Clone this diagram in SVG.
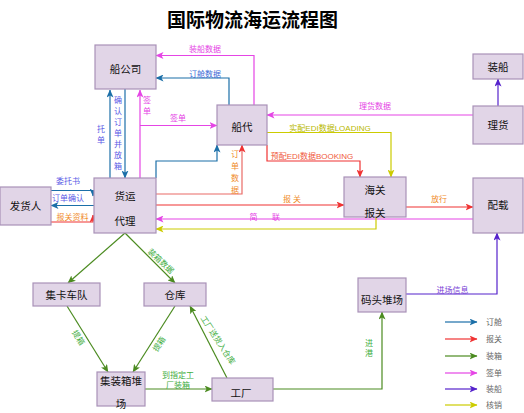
<svg xmlns="http://www.w3.org/2000/svg" width="524" height="413" viewBox="0 0 524 413">
<defs>
<style>
text{font-family:"Liberation Sans","Noto Sans CJK SC",sans-serif;}
.node rect{fill:#e1d5e7;stroke:#a992b8;stroke-width:1.2;}
.nl{font-size:10.5px;fill:#111;text-anchor:middle;}
.el{font-size:8px;text-anchor:middle;}
.c{fill:none;stroke-width:1.2;}
.blue{stroke:#1b6fa8;} .red{stroke:#f03333;} .sal{stroke:#ea6b66;} .grn{stroke:#4b8b20;}
.mag{stroke:#e545e5;} .pur{stroke:#5522cc;} .yel{stroke:#cccc00;}
.tb{fill:#3d6bd6;} .tp{fill:#5a5ae6;} .tm{fill:#e545e5;} .to{fill:#f08c2a;} .tr{fill:#f05a3c;}
.ty{fill:#b8b800;} .tg{fill:#3fae3f;} .tu{fill:#7a3fd6;} .tl{fill:#666;}
</style>
<marker id="mb" markerUnits="userSpaceOnUse" markerWidth="8" markerHeight="7" viewBox="0 0 8 7" refX="7.5" refY="3.5" orient="auto"><path d="M0,0 L8,3.5 L0,7 L2,3.5 Z" fill="#1b6fa8"/></marker>
<marker id="mr" markerUnits="userSpaceOnUse" markerWidth="8" markerHeight="7" viewBox="0 0 8 7" refX="7.5" refY="3.5" orient="auto"><path d="M0,0 L8,3.5 L0,7 L2,3.5 Z" fill="#f03333"/></marker>
<marker id="ms" markerUnits="userSpaceOnUse" markerWidth="8" markerHeight="7" viewBox="0 0 8 7" refX="7.5" refY="3.5" orient="auto"><path d="M0,0 L8,3.5 L0,7 L2,3.5 Z" fill="#f03333"/></marker>
<marker id="mg" markerUnits="userSpaceOnUse" markerWidth="8" markerHeight="7" viewBox="0 0 8 7" refX="7.5" refY="3.5" orient="auto"><path d="M0,0 L8,3.5 L0,7 L2,3.5 Z" fill="#4b8b20"/></marker>
<marker id="mm" markerUnits="userSpaceOnUse" markerWidth="8" markerHeight="7" viewBox="0 0 8 7" refX="7.5" refY="3.5" orient="auto"><path d="M0,0 L8,3.5 L0,7 L2,3.5 Z" fill="#e545e5"/></marker>
<marker id="mp" markerUnits="userSpaceOnUse" markerWidth="8" markerHeight="7" viewBox="0 0 8 7" refX="7.5" refY="3.5" orient="auto"><path d="M0,0 L8,3.5 L0,7 L2,3.5 Z" fill="#5522cc"/></marker>
<marker id="my" markerUnits="userSpaceOnUse" markerWidth="8" markerHeight="7" viewBox="0 0 8 7" refX="7.5" refY="3.5" orient="auto"><path d="M0,0 L8,3.5 L0,7 L2,3.5 Z" fill="#cccc00"/></marker>
</defs>
<rect width="524" height="413" fill="#ffffff"/>
<text x="252.5" y="27" font-size="19" font-weight="bold" text-anchor="middle" fill="#000">国际物流海运流程图</text>

<g id="connectors">
<path class="c mag" d="M254,105 V55.5 H156" marker-end="url(#mm)"/>
<path class="c blue" d="M229,105 V78 H156" marker-end="url(#mb)"/>
<path class="c mag" d="M140,178 V90" marker-end="url(#mm)"/>
<path class="c mag" d="M140,125.5 H217" marker-end="url(#mm)"/>
<path class="c blue" d="M110,178 V90" marker-end="url(#mb)"/>
<path class="c blue" d="M125,89 V178" marker-end="url(#mb)"/>
<path class="c blue" d="M156,178 V161 H217 V145" marker-end="url(#mb)"/>
<path class="c sal" d="M156,194 H242 V145" marker-end="url(#ms)"/>
<path class="c red" d="M267,145 V161 H360 V177" marker-end="url(#mr)"/>
<path class="c yel" d="M267,132.5 H391 V177" marker-end="url(#my)"/>
<path class="c mag" d="M473,115 H267" marker-end="url(#mm)"/>
<path class="c pur" d="M498,106 V79" marker-end="url(#mp)"/>
<path class="c red" d="M156,205 H344" marker-end="url(#mr)"/>
<path class="c red" d="M406,207 H473" marker-end="url(#mr)"/>
<path class="c mag" d="M473,219 H156" marker-end="url(#mm)"/>
<path class="c yel" d="M376,217 V229 H156" marker-end="url(#my)"/>
<path class="c blue" d="M51,190.5 H93 V196" marker-end="url(#mb)"/>
<path class="c blue" d="M94,205.5 H51" marker-end="url(#mb)"/>
<path class="c red" d="M51,222 H93 V215" marker-end="url(#mr)"/>
<path class="c grn" d="M125,233 L68,283" marker-end="url(#mg)"/>
<path class="c grn" d="M125,233 L175,283" marker-end="url(#mg)"/>
<path class="c grn" d="M67,306 L108,372" marker-end="url(#mg)"/>
<path class="c grn" d="M175,306 L133,372" marker-end="url(#mg)"/>
<path class="c grn" d="M145,389 H212" marker-end="url(#mg)"/>
<path class="c grn" d="M227,378 L190,306" marker-end="url(#mg)"/>
<path class="c grn" d="M273,389 H382 V312" marker-end="url(#mg)"/>
<path class="c pur" d="M406,294 H497 V233" marker-end="url(#mp)"/>

<text class="el tm" x="205" y="52">装船数据</text>
<text class="el tb" x="205" y="76.5">订舱数据</text>
<text class="el tm" x="178" y="121">签单</text>
<text class="el tm" x="147" y="103"><tspan x="147">签</tspan><tspan x="147" dy="11">单</tspan></text>
<text class="el tp" x="101" y="132"><tspan x="101">托</tspan><tspan x="101" dy="11">单</tspan></text>
<text class="el tp" x="118" y="103"><tspan x="118">确</tspan><tspan x="118" dy="11">认</tspan><tspan x="118" dy="11">订</tspan><tspan x="118" dy="11">单</tspan><tspan x="118" dy="11">并</tspan><tspan x="118" dy="11">放</tspan><tspan x="118" dy="11">箱</tspan></text>
<text class="el to" x="235" y="157"><tspan x="235">订</tspan><tspan x="235" dy="12">单</tspan><tspan x="235" dy="12">数</tspan><tspan x="235" dy="12">据</tspan></text>
<text class="el tr" x="312" y="159">预配EDI数据BOOKING</text>
<text class="el ty" x="330" y="130.5">实配EDI数据LOADING</text>
<text class="el tm" x="375" y="109">理货数据</text>
<text class="el to" x="292" y="201.5">报 关</text>
<text class="el to" x="439" y="201.5">放行</text>
<text class="el tm" x="253.5" y="219.5">简</text>
<text class="el tm" x="276" y="219.5">联</text>
<text class="el tp" x="68" y="183.5">委托书</text>
<text class="el tp" x="68" y="201">订单确认</text>
<text class="el to" x="72.5" y="220">报关资料</text>
<text class="el tg" transform="translate(161,261) rotate(43)" x="0" y="3">装箱数据</text>
<text class="el tg" transform="translate(78.5,337.5) rotate(57)" x="0" y="3">提箱</text>
<text class="el tg" transform="translate(159,344) rotate(-57)" x="0" y="3">提箱</text>
<text class="el tg" transform="translate(218,340) rotate(57)" x="0" y="3">工厂送货入仓库</text>
<text class="el tg" x="178" y="378"><tspan x="178">到指定工</tspan><tspan x="178" dy="10">厂装箱</tspan></text>
<text class="el tg" x="369" y="346"><tspan x="369">进</tspan><tspan x="369" dy="10">港</tspan></text>
<text class="el tu" x="452.5" y="292.5">进场信息</text>
</g>

<g id="n-chuangongsi" class="node"><rect x="95" y="45" width="61" height="44"/><text class="nl" x="125.5" y="73">船公司</text></g>
<g id="n-chuandai" class="node"><rect x="217" y="105" width="50" height="40"/><text class="nl" x="242" y="131">船代</text></g>
<g id="n-zhuangchuan" class="node"><rect x="473" y="54" width="50" height="25"/><text class="nl" x="498" y="70.5">装船</text></g>
<g id="n-lihuo" class="node"><rect x="473" y="106" width="50" height="38"/><text class="nl" x="498" y="129">理货</text></g>
<g id="n-haiguan" class="node"><rect x="344" y="177" width="62" height="40"/><text class="nl" x="375" y="194">海关</text><text class="nl" x="375" y="217">报关</text></g>
<g id="n-peizai" class="node"><rect x="473" y="178" width="50" height="55"/><text class="nl" x="498" y="209">配载</text></g>
<g id="n-fahuoren" class="node"><rect x="0" y="187" width="51" height="38"/><text class="nl" x="25.5" y="210">发货人</text></g>
<g id="n-huoyundaili" class="node"><rect x="94" y="178" width="62" height="55"/><text class="nl" x="125" y="200">货运</text><text class="nl" x="125" y="225">代理</text></g>
<g id="n-jikachedui" class="node"><rect x="33" y="283" width="67" height="23"/><text class="nl" x="66.5" y="298.5">集卡车队</text></g>
<g id="n-cangku" class="node"><rect x="144" y="283" width="62" height="23"/><text class="nl" x="175" y="298.5">仓库</text></g>
<g id="n-duichang" class="node"><rect x="97" y="372" width="48" height="34"/><text class="nl" x="121" y="385">集装箱堆</text><text class="nl" x="121" y="408">场</text></g>
<g id="n-gongchang" class="node"><rect x="212" y="378" width="61" height="23"/><text class="nl" x="241" y="397">工厂</text></g>
<g id="n-matou" class="node"><rect x="358" y="278" width="48" height="34"/><text class="nl" x="382" y="303.5">码头堆场</text></g>

<g id="legend">
<path class="c blue" d="M445,322 H477" marker-end="url(#mb)"/>
<path class="c red" d="M445,339 H477" marker-end="url(#mr)"/>
<path class="c grn" d="M445,356 H477" marker-end="url(#mg)"/>
<path class="c mag" d="M445,373 H477" marker-end="url(#mm)"/>
<path class="c pur" d="M445,389 H477" marker-end="url(#mp)"/>
<path class="c yel" d="M445,405 H477" marker-end="url(#my)"/>
<text class="el tl" x="486" y="325" text-anchor="start" style="text-anchor:start">订舱</text>
<text class="el tl" x="486" y="342" style="text-anchor:start">报关</text>
<text class="el tl" x="486" y="359" style="text-anchor:start">装箱</text>
<text class="el tl" x="486" y="376" style="text-anchor:start">签单</text>
<text class="el tl" x="486" y="392" style="text-anchor:start">装船</text>
<text class="el tl" x="486" y="408" style="text-anchor:start">核销</text>
</g>
</svg>
